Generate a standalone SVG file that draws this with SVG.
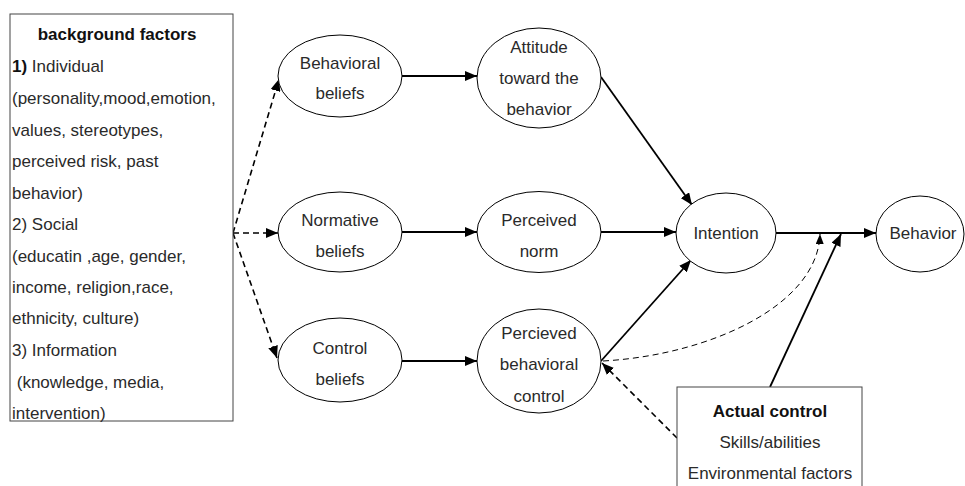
<svg xmlns="http://www.w3.org/2000/svg" width="965" height="486" viewBox="0 0 965 486">
<defs>
<marker id="ah" viewBox="0 0 12 10" refX="12" refY="5" markerWidth="12" markerHeight="10" markerUnits="userSpaceOnUse" orient="auto"><path d="M0,0 L12,5 L0,10 Z" fill="#000"/></marker>
<marker id="ahs" viewBox="0 0 10 8" refX="10" refY="4" markerWidth="10" markerHeight="8" markerUnits="userSpaceOnUse" orient="auto"><path d="M0,0 L10,4 L0,8 Z" fill="#000"/></marker>
</defs>
<style>
text{font-family:"Liberation Sans",Arial,sans-serif;font-size:17px;fill:#2a2a2a}
.c{text-anchor:middle}
.b{font-weight:bold;fill:#111}
.box{fill:#fff;stroke:#444;stroke-width:1}
ellipse{fill:#fff;stroke:#000;stroke-width:1}
.s{fill:none;stroke:#000;stroke-width:1.8;marker-end:url(#ah)}
.d{fill:none;stroke:#000;stroke-width:1.6;stroke-dasharray:6 4;marker-end:url(#ah)}
.t{fill:none;stroke:#000;stroke-width:1;stroke-dasharray:6 4;marker-end:url(#ahs)}
</style>
<rect width="965" height="486" fill="#fff"/>
<g id="connectors">
<path class="d" d="M233,233 L279,79"/>
<path class="d" d="M233,233 L278,233"/>
<path class="d" d="M233,233 L277,358"/>
<path class="s" d="M402,76 L477,76"/>
<path class="s" d="M402,232 L477,232"/>
<path class="s" d="M402,361 L477,361"/>
<path class="s" d="M601,77 L692,205"/>
<path class="s" d="M601,232 L676,232"/>
<path class="s" d="M601,361 L691,260"/>
<path class="s" d="M776,233 L876,233"/>
<path class="t" d="M603,361 C710,355 818,305 820,234"/>
<path class="s" d="M770,387 L841,234"/>
<path class="d" d="M677,438 L602,363"/>
</g>
<g id="background">
<rect class="box" x="10" y="14" width="223" height="407"/>
<text class="c b" x="117" y="40">background factors</text>
<text x="12" y="72"><tspan class="b">1)</tspan> Individual</text>
<text x="12" y="104">(personality,mood,emotion,</text>
<text x="12" y="136">values, stereotypes,</text>
<text x="12" y="167">perceived risk, past</text>
<text x="12" y="199">behavior)</text>
<text x="12" y="230">2) Social</text>
<text x="12" y="262">(educatin ,age, gender,</text>
<text x="12" y="293">income, religion,race,</text>
<text x="12" y="324">ethnicity, culture)</text>
<text x="12" y="356">3) Information</text>
<text x="12" y="388" xml:space="preserve"> (knowledge, media,</text>
<text x="12" y="419">intervention)</text>
</g>
<g id="behavioral-beliefs">
<ellipse cx="340" cy="76" rx="62" ry="41"/>
<text class="c" x="340" y="69">Behavioral</text>
<text class="c" x="340" y="99">beliefs</text>
</g>
<g id="normative-beliefs">
<ellipse cx="340" cy="232" rx="62" ry="40"/>
<text class="c" x="340" y="226">Normative</text>
<text class="c" x="340" y="257">beliefs</text>
</g>
<g id="control-beliefs">
<ellipse cx="340" cy="360" rx="62" ry="42"/>
<text class="c" x="340" y="354">Control</text>
<text class="c" x="340" y="385">beliefs</text>
</g>
<g id="attitude">
<ellipse cx="539" cy="78" rx="62" ry="50"/>
<text class="c" x="539" y="53">Attitude</text>
<text class="c" x="539" y="84">toward the</text>
<text class="c" x="539" y="115">behavior</text>
</g>
<g id="perceived-norm">
<ellipse cx="539" cy="232" rx="62" ry="40.5"/>
<text class="c" x="539" y="226">Perceived</text>
<text class="c" x="539" y="257">norm</text>
</g>
<g id="pbc">
<ellipse cx="539" cy="361" rx="62" ry="52"/>
<text class="c" x="539" y="339">Percieved</text>
<text class="c" x="539" y="370">behavioral</text>
<text class="c" x="539" y="402">control</text>
</g>
<g id="intention">
<ellipse cx="726" cy="233" rx="50" ry="40"/>
<text class="c" x="726" y="239">Intention</text>
</g>
<g id="behavior">
<ellipse cx="920" cy="234" rx="44" ry="38"/>
<text class="c" x="923" y="239">Behavior</text>
</g>
<g id="actual-control">
<rect class="box" x="677" y="387" width="185" height="110"/>
<text class="c b" x="770" y="417">Actual control</text>
<text class="c" x="770" y="448">Skills/abilities</text>
<text class="c" x="770" y="479">Environmental factors</text>
</g>
</svg>
